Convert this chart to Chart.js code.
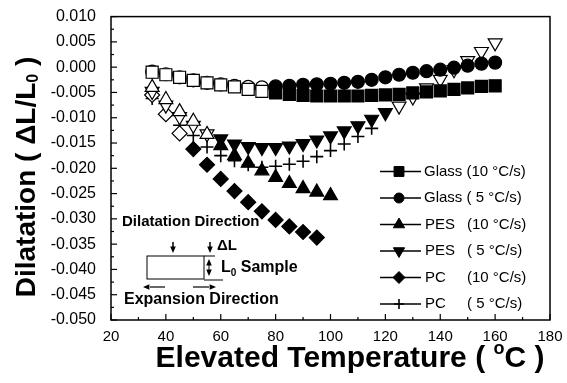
<!DOCTYPE html>
<html>
<head>
<meta charset="utf-8">
<title>Dilatation vs elevated temperature</title>
<script src="https://cdn.jsdelivr.net/npm/chart.js@4.4.0/dist/chart.umd.min.js"></script>
<style>
  html, body { margin: 0; padding: 0; background: #fff; }
  #wrap { width: 567px; height: 383px; }
</style>
</head>
<body>
<div id="wrap"><canvas id="chart" width="567" height="383"></canvas></div>
<script>
var FONT = '"Liberation Sans", Arial, sans-serif';

// temperatures (deg C)
var temps = [35, 40, 45, 50, 55, 60, 65, 70, 75, 80, 85, 90, 95, 100, 105, 110, 115, 120, 125, 130, 135, 140, 145, 150, 155, 160];
var pes10Temps = temps.slice(0, 14);
var pc10Temps = temps.slice(0, 13);
var pc5Temps = temps.slice(0, 17);

// dilatation dL/L0
var glass10 = [-0.0010, -0.0015, -0.0020, -0.0026, -0.0031, -0.0035, -0.0039, -0.0044, -0.0048, -0.0051, -0.0054, -0.0056, -0.0057, -0.0057, -0.0057, -0.0057, -0.0056, -0.0055, -0.0054, -0.0051, -0.0049, -0.0047, -0.0044, -0.0041, -0.0038, -0.0037];
var glass5 = [-0.0009, -0.0014, -0.0020, -0.0026, -0.0031, -0.0034, -0.0037, -0.0039, -0.0040, -0.0038, -0.0037, -0.0035, -0.0034, -0.0033, -0.0031, -0.0029, -0.0025, -0.0020, -0.0015, -0.0011, -0.0008, -0.0005, -0.0001, 0.0003, 0.0007, 0.0009];
var pes10 = [-0.0040, -0.0064, -0.0088, -0.0107, -0.0133, -0.0155, -0.0175, -0.0190, -0.0205, -0.0218, -0.0230, -0.0240, -0.0247, -0.0254];
var pes5 = [-0.0048, -0.0075, -0.0098, -0.0115, -0.0132, -0.0142, -0.0152, -0.0157, -0.0159, -0.0159, -0.0156, -0.0151, -0.0144, -0.0136, -0.0126, -0.0116, -0.0103, -0.0090, -0.0077, -0.0059, -0.0041, -0.0024, -0.0005, 0.0013, 0.0031, 0.0048];
var pc10 = [-0.0055, -0.0093, -0.0131, -0.0162, -0.0193, -0.0221, -0.0245, -0.0267, -0.0285, -0.0302, -0.0315, -0.0326, -0.0337];
var pc5 = [-0.0062, -0.0095, -0.0115, -0.0135, -0.0158, -0.0175, -0.0185, -0.0193, -0.0198, -0.0196, -0.0192, -0.0186, -0.0177, -0.0165, -0.0152, -0.0137, -0.0121];

var legendNames = ['Glass', 'Glass', 'PES', 'PES', 'PC', 'PC'];
var legendRates = ['(10 \u00B0C/s)', '( 5 \u00B0C/s)', '(10 \u00B0C/s)', '( 5 \u00B0C/s)', '(10 \u00B0C/s)', '( 5 \u00B0C/s)'];

var xTicks = { min: 20, max: 180, step: 20 };
var yTicks = { min: -0.05, max: 0.01, step: 0.005 };

function pairs(xs, ys) {
    return ys.map(function (v, i) { return { x: xs[i], y: v }; });
}

// early (and for PES 5 also late) markers look open in the scan
function fillFor(lo, hi) {
    return function (c) {
        var x = c.raw ? c.raw.x : 0;
        if (x <= lo || x >= hi) return '#fff';
        return '#000';
    };
}

function makeSet(label, xs, ys, style, radius, rotation, fill) {
    return {
        label: label,
        data: pairs(xs, ys),
        showLine: false,
        pointStyle: style,
        pointRadius: radius,
        pointRotation: rotation,
        pointBackgroundColor: fill,
        pointBorderColor: '#000',
        pointBorderWidth: style === 'cross' ? 1.6 : 1.2,
        legendRadius: radius - 1.5
    };
}

var datasets = [
    makeSet('Glass (10 °C/s)', temps, glass10, 'rect', 8.5, 0, fillFor(75, 999)),
    makeSet('Glass (5 °C/s)', temps, glass5, 'circle', 6.5, 0, fillFor(75, 999)),
    makeSet('PES (10 °C/s)', pes10Temps, pes10, 'triangle', 8, 0, fillFor(55, 999)),
    makeSet('PES (5 °C/s)', temps, pes5, 'triangle', 8, 180, fillFor(55, 125)),
    makeSet('PC (10 °C/s)', pc10Temps, pc10, 'rectRot', 7.5, 0, fillFor(45, 999)),
    makeSet('PC (5 °C/s)', pc5Temps, pc5, 'cross', 6.5, 0, '#000')
];

function line(ctx, x1, y1, x2, y2) {
    ctx.beginPath();
    ctx.moveTo(x1, y1);
    ctx.lineTo(x2, y2);
    ctx.stroke();
}

function arrowHead(ctx, x, y, dir) {
    // dir: 'l', 'r', 'u', 'd'
    var s = 4;
    ctx.beginPath();
    if (dir === 'l') { ctx.moveTo(x, y); ctx.lineTo(x + s * 1.6, y - s * 0.7); ctx.lineTo(x + s * 1.6, y + s * 0.7); }
    if (dir === 'r') { ctx.moveTo(x, y); ctx.lineTo(x - s * 1.6, y - s * 0.7); ctx.lineTo(x - s * 1.6, y + s * 0.7); }
    if (dir === 'u') { ctx.moveTo(x, y); ctx.lineTo(x - s * 0.7, y + s * 1.6); ctx.lineTo(x + s * 0.7, y + s * 1.6); }
    if (dir === 'd') { ctx.moveTo(x, y); ctx.lineTo(x - s * 0.7, y - s * 1.6); ctx.lineTo(x + s * 0.7, y - s * 1.6); }
    ctx.closePath();
    ctx.fill();
}

// draws a row of [text, font, dy] pieces starting at x
function drawPieces(ctx, pieces, x, y) {
    pieces.forEach(function (p) {
        ctx.font = p[1];
        ctx.fillText(p[0], x, y + (p[2] || 0));
        x += ctx.measureText(p[0]).width;
    });
}

function piecesWidth(ctx, pieces) {
    var w = 0;
    pieces.forEach(function (p) {
        ctx.font = p[1];
        w += ctx.measureText(p[0]).width;
    });
    return w;
}

var decor = {
    id: 'decor',
    afterDraw: function (chart) {
        var ctx = chart.ctx, a = chart.chartArea;
        var xs = chart.scales.x, ys = chart.scales.y;
        ctx.save();
        ctx.strokeStyle = '#000';
        ctx.fillStyle = '#000';

        // frame
        ctx.lineWidth = 1.5;
        ctx.strokeRect(a.left, a.top, a.right - a.left, a.bottom - a.top);

        // inward ticks, majors and minors
        ctx.lineWidth = 1.2;
        xs.ticks.forEach(function (t, i) {
            var px = xs.getPixelForValue(t.value);
            line(ctx, px, a.bottom, px, a.bottom - 6);
            if (i < xs.ticks.length - 1) {
                var mx = xs.getPixelForValue((t.value + xs.ticks[i + 1].value) / 2);
                line(ctx, mx, a.bottom, mx, a.bottom - 3);
            }
        });
        ys.ticks.forEach(function (t, i) {
            var py = ys.getPixelForValue(t.value);
            line(ctx, a.left, py, a.left + 6, py);
            if (i < ys.ticks.length - 1) {
                var my = ys.getPixelForValue((t.value + ys.ticks[i + 1].value) / 2);
                line(ctx, a.left, my, a.left + 3, my);
            }
        });

        // legend
        ctx.textBaseline = 'middle';
        ctx.textAlign = 'left';
        chart.data.datasets.forEach(function (ds, i) {
            var y = 171.5 + i * 26.5;
            ctx.lineWidth = 1.3;
            line(ctx, 380, y, 421, y);
            ctx.fillStyle = '#000';
            ctx.strokeStyle = '#000';
            ctx.lineWidth = ds.pointStyle === 'cross' ? 1.6 : 1;
            Chart.helpers.drawPoint(ctx, {
                pointStyle: ds.pointStyle,
                rotation: ds.pointRotation,
                radius: ds.legendRadius,
                borderWidth: ctx.lineWidth
            }, 399, y);
            ctx.font = '15px ' + FONT;
            if (i < 2) {
                ctx.fillText(legendNames[i] + ' ' + legendRates[i], 424, y);
            } else {
                ctx.fillText(legendNames[i], 425, y);
                ctx.fillText(legendRates[i], 467, y);
            }
        });

        // sample sketch
        ctx.lineWidth = 1;
        ctx.font = 'bold 15px ' + FONT;
        ctx.fillText('Dilatation Direction', 122, 222);
        ctx.font = 'bold 16px ' + FONT;
        ctx.fillText('Expansion Direction', 124, 300);
        ctx.lineWidth = 1.5;
        line(ctx, 173, 242, 173, 248);
        arrowHead(ctx, 173, 253, 'd');
        line(ctx, 210, 242, 210, 248);
        arrowHead(ctx, 210, 253, 'd');
        ctx.font = 'bold 15px ' + FONT;
        ctx.fillText('\u0394L', 217, 246);
        ctx.lineWidth = 1;
        ctx.strokeRect(147, 256, 57, 23);
        line(ctx, 204, 256, 215, 256);
        line(ctx, 204, 280, 223, 280);
        line(ctx, 209, 264, 209, 270);
        arrowHead(ctx, 209, 259, 'u');
        arrowHead(ctx, 209, 276, 'd');
        drawPieces(ctx, [['L', 'bold 16px ' + FONT], ['0', 'bold 10px ' + FONT, 5], [' Sample', 'bold 16px ' + FONT]], 221, 268);
        ctx.lineWidth = 1.2;
        line(ctx, 150, 287, 165, 287);
        arrowHead(ctx, 143, 287, 'l');
        line(ctx, 193, 287, 209, 287);
        arrowHead(ctx, 216, 287, 'r');

        // axis titles
        var big = 'bold 30px ' + FONT;
        var xt = [['Elevated Temperature ( ', big], ['o', 'bold 18px ' + FONT, -10], ['C )', big]];
        drawPieces(ctx, xt, 350 - piecesWidth(ctx, xt) / 2, 359);

        var yb = 'bold 28px ' + FONT;
        var yt = [['Dilatation ( \u0394L/L', yb], ['0', 'bold 16px ' + FONT, 7], [' )', yb]];
        ctx.translate(27, 177);
        ctx.rotate(-Math.PI / 2);
        drawPieces(ctx, yt, -piecesWidth(ctx, yt) / 2, 0);
        ctx.restore();
    }
};

var ctx = document.getElementById('chart');
var config = {
    type: 'scatter',
    data: { datasets: datasets },
    options: {
        responsive: false,
        animation: false,
        devicePixelRatio: 1,
        layout: { padding: { top: 15, right: 17, left: 0, bottom: 0 } },
        plugins: {
            legend: { display: false },
            tooltip: { enabled: false }
        },
        scales: {
            x: {
                type: 'linear',
                min: xTicks.min,
                max: xTicks.max,
                border: { display: false },
                grid: { display: false },
                ticks: {
                    stepSize: xTicks.step,
                    padding: 0,
                    maxRotation: 0,
                    color: '#000',
                    font: { family: FONT, size: 15 }
                },
                afterFit: function (s) { s.height = 63; }
            },
            y: {
                type: 'linear',
                min: yTicks.min,
                max: yTicks.max,
                border: { display: false },
                grid: { display: false },
                ticks: {
                    stepSize: yTicks.step,
                    padding: 7,
                    color: '#000',
                    font: { family: FONT, size: 16 },
                    callback: function (v) {
                        if (Math.abs(v) < 1e-9) v = 0;
                        return v.toFixed(3);
                    }
                },
                afterFit: function (s) { s.width = 111; }
            }
        }
    },
    plugins: [decor]
};
var myChart = new Chart(ctx, config);
</script>
</body>
</html>
